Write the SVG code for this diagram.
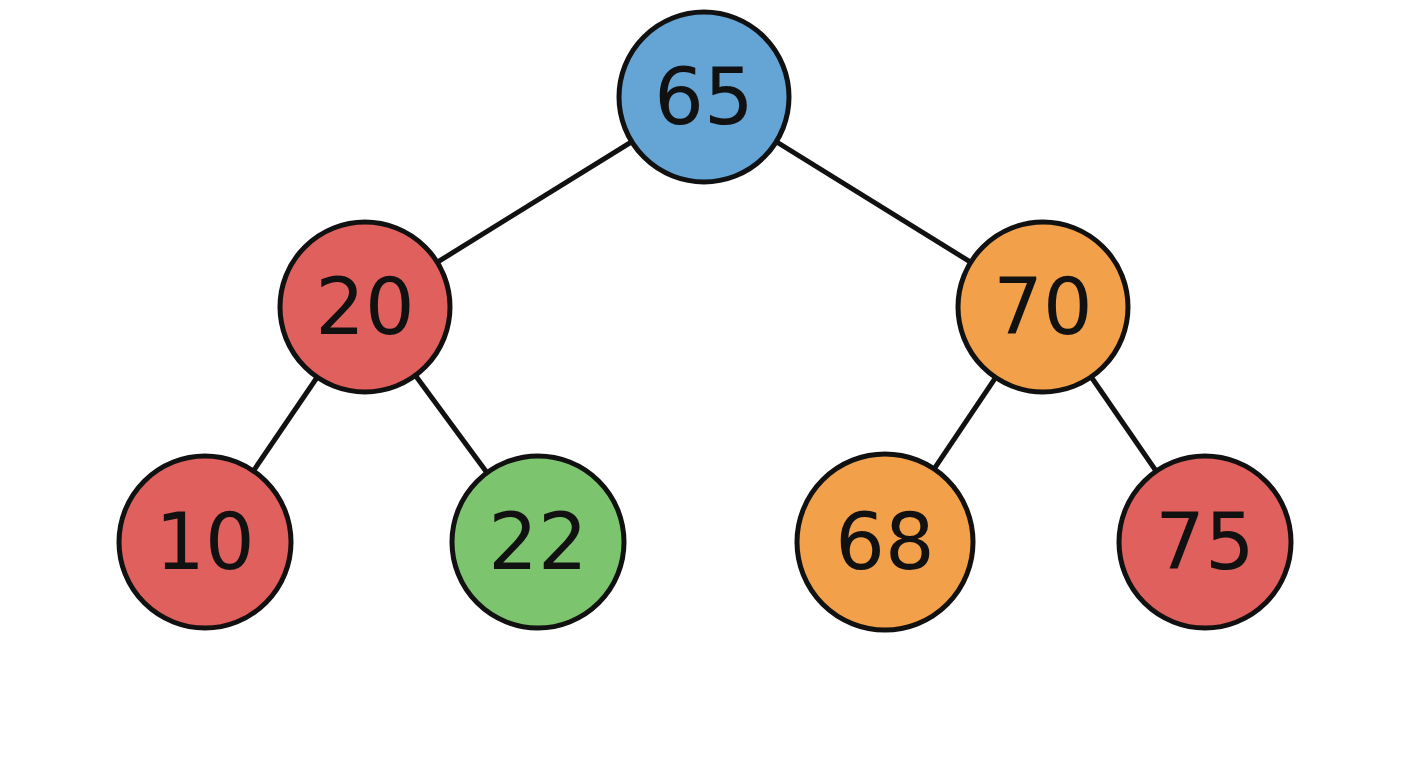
<svg xmlns="http://www.w3.org/2000/svg" width="1408" height="768" viewBox="0 0 1408 768">
<style>
.n circle{stroke:#111;stroke-width:5}
.n text{font-family:"DejaVu Sans",sans-serif;font-size:78px;fill:#111;text-anchor:middle;dominant-baseline:central}
.e line{stroke:#111;stroke-width:5}
</style>
<rect width="1408" height="768" fill="#fff"/>
<g id="edges" class="e">
<line x1="704" y1="97" x2="365" y2="307"/>
<line x1="704" y1="97" x2="1043" y2="307"/>
<line x1="365" y1="307" x2="205" y2="542"/>
<line x1="365" y1="307" x2="538" y2="542"/>
<line x1="1043" y1="307" x2="885" y2="542"/>
<line x1="1043" y1="307" x2="1205" y2="542"/>
</g>
<g id="n65" class="n"><circle cx="704" cy="97" r="85" fill="#64a5d6"/><text x="704" y="97">65</text></g>
<g id="n20" class="n"><circle cx="365" cy="307" r="85" fill="#e0605e"/><text x="365" y="307">20</text></g>
<g id="n70" class="n"><circle cx="1043" cy="307" r="85" fill="#f2a14a"/><text x="1043" y="307">70</text></g>
<g id="n10" class="n"><circle cx="205" cy="542" r="86" fill="#e0605e"/><text x="205" y="542">10</text></g>
<g id="n22" class="n"><circle cx="538" cy="542" r="86" fill="#7dc46f"/><text x="538" y="542">22</text></g>
<g id="n68" class="n"><circle cx="885" cy="542" r="88" fill="#f2a14a"/><text x="885" y="542">68</text></g>
<g id="n75" class="n"><circle cx="1205" cy="542" r="86" fill="#e0605e"/><text x="1205" y="542">75</text></g>
</svg>
